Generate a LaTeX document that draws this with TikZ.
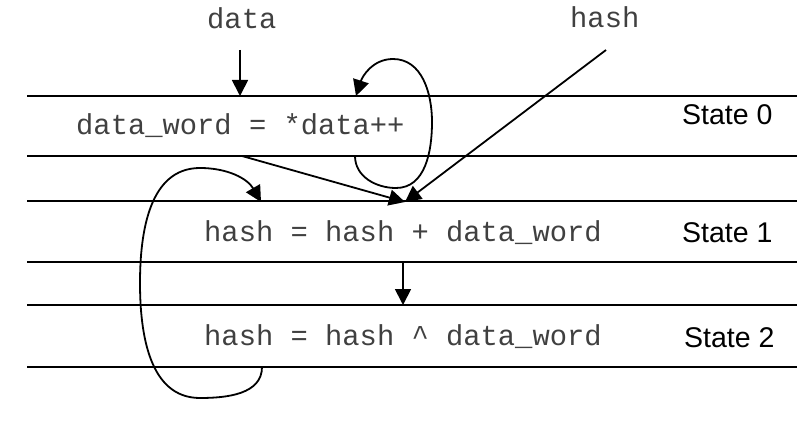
\documentclass[tikz,border=0pt]{standalone}
\usepackage{fontspec}
\setmainfont{Liberation Sans}
\newfontfamily\codefont{Liberation Mono}
\usetikzlibrary{arrows.meta}
\begin{document}
\begin{tikzpicture}[x=1pt,y=-1pt,
  rule/.style={line width=2pt},
  conn/.style={line width=1.8pt,-{Triangle[width=16pt,length=16pt]}},
  code/.style={font=\codefont\fontsize{28.8}{30}\selectfont, text=black!75, inner sep=0pt, anchor=base west},
  lab/.style={font=\fontsize{28.5}{30}\selectfont, inner sep=0pt, anchor=base west}]
\useasboundingbox (0,0) rectangle (797,430);
% state rows
\foreach \yy in {96,156,201,262,305,367} \draw[rule] (27,\yy) -- (797,\yy);
% texts
\node[code] (data) at (207,29) {data};
\node[code] (hash) at (570,28) {hash};
\node[code] (c0) at (76,135) {data\_word = *data++};
\node[code] (c1) at (204,242) {hash = hash + data\_word};
\node[code] (c2) at (204,345) {hash = hash \textasciicircum{} data\_word};
\node[lab] (s0) at (682,125) {State 0};
\node[lab] (s1) at (682,243) {State 1};
\node[lab] (s2) at (684,347) {State 2};
% connector end points
\coordinate (dataS) at (240,50);
\coordinate (dataT) at (240,96);
\coordinate (loopS) at (355,156);
\coordinate (loopT) at (356,96);
\coordinate (wordS) at (242,156);
\coordinate (sumT) at (405,202);
\coordinate (hashS) at (606,50);
\coordinate (oneS) at (403,262);
\coordinate (twoT) at (403,305);
\coordinate (bigS) at (262,367);
\coordinate (bigT) at (261,202);
% connectors
\draw[conn] (loopS) to[out=-90,in=180] (396,188) to[out=0,in=-90] (432,122)
  to[out=90,in=0] (393,59) to[out=180,in=72] (loopT);
\draw[conn] (dataS) -- (dataT);
\draw[conn] (wordS) -- (sumT);
\draw[conn] (hashS) -- (sumT);
\draw[conn] (oneS) -- (twoT);
\draw[conn] (bigS) to[out=-90,in=0] (200,398) to[out=180,in=-90] (140,283)
  to[out=90,in=180] (200,168) to[out=0,in=120] (bigT);
\end{tikzpicture}
\end{document}
